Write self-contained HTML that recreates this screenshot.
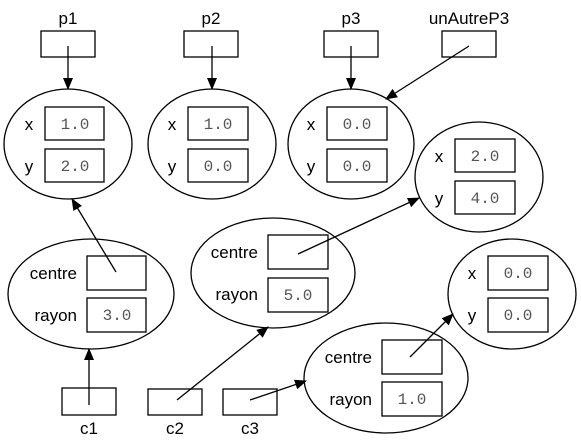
<!DOCTYPE html>
<html><head><meta charset="utf-8"><style>
html,body{margin:0;padding:0;background:#fff;}
svg{display:block;}
.s{font-family:"Liberation Sans",sans-serif;font-size:17px;}
.m{font-family:"Liberation Mono",monospace;font-size:16px;fill:#555;}
</style></head><body>
<svg width="581" height="440" viewBox="0 0 581 440" xmlns="http://www.w3.org/2000/svg">
<defs><marker id="a" markerWidth="12" markerHeight="10" refX="11" refY="5" orient="auto" markerUnits="userSpaceOnUse"><path d="M0,0 L12,5 L0,10 z" fill="#000"/></marker></defs>
<g fill="none" stroke="#000" stroke-width="1.3">
<rect x="41" y="31" width="54" height="26"/><rect x="184" y="31" width="54" height="26"/>
<rect x="324" y="31" width="54" height="26"/><rect x="442" y="31" width="54" height="26"/>
<ellipse cx="68" cy="144" rx="64" ry="55"/><ellipse cx="212" cy="144" rx="64" ry="55"/>
<ellipse cx="351" cy="144" rx="63" ry="55"/><ellipse cx="479" cy="177" rx="64" ry="55"/>
<rect x="45" y="107" width="59" height="33"/><rect x="45" y="149" width="59" height="33"/>
<rect x="188" y="107" width="60" height="33"/><rect x="188" y="149" width="60" height="33"/>
<rect x="327" y="107" width="60" height="33"/><rect x="327" y="149" width="60" height="33"/>
<rect x="455" y="139" width="60" height="33"/><rect x="455" y="181" width="60" height="33"/>
<ellipse cx="91" cy="294" rx="83" ry="55"/><rect x="87" y="256" width="59" height="34"/><rect x="87" y="298" width="59" height="34"/>
<ellipse cx="273" cy="273" rx="82" ry="55"/><rect x="268" y="235" width="60" height="34"/><rect x="268" y="278" width="60" height="34"/>
<ellipse cx="386" cy="378" rx="82" ry="55"/><rect x="382" y="340" width="60" height="34"/><rect x="382" y="382" width="60" height="34"/>
<ellipse cx="512" cy="294" rx="64" ry="55"/><rect x="488" y="256" width="60" height="34"/><rect x="488" y="298" width="60" height="34"/>
<rect x="62" y="388" width="54" height="27"/><rect x="148" y="389" width="54" height="26"/><rect x="223" y="389" width="54" height="26"/>
<line x1="68" y1="46" x2="68" y2="89" marker-end="url(#a)"/>
<line x1="212" y1="46" x2="212" y2="89" marker-end="url(#a)"/>
<line x1="351" y1="46" x2="351" y2="89" marker-end="url(#a)"/>
<line x1="469" y1="46" x2="386" y2="99" marker-end="url(#a)"/>
<line x1="116" y1="272" x2="72" y2="199" marker-end="url(#a)"/>
<line x1="89" y1="405" x2="89" y2="349" marker-end="url(#a)"/>
<line x1="298" y1="254" x2="419" y2="198" marker-end="url(#a)"/>
<line x1="177" y1="400" x2="268" y2="327" marker-end="url(#a)"/>
<line x1="250" y1="400" x2="306" y2="381" marker-end="url(#a)"/>
<line x1="410" y1="357" x2="453" y2="314" marker-end="url(#a)"/>
</g>
<g class="s" text-anchor="middle">
<text x="68" y="24">p1</text><text x="211" y="24">p2</text><text x="351" y="24">p3</text><text x="469" y="24">unAutreP3</text>
<text x="89" y="434">c1</text><text x="175" y="434">c2</text><text x="250" y="434">c3</text>
</g>
<g class="s" text-anchor="middle">
<text x="29" y="130">x</text><text x="29" y="172">y</text>
<text x="172" y="130">x</text><text x="172" y="172">y</text>
<text x="311" y="130">x</text><text x="311" y="172">y</text>
<text x="439" y="162">x</text><text x="439" y="204">y</text>
<text x="472" y="279">x</text><text x="472" y="321">y</text>
</g>
<g class="s" text-anchor="end">
<text x="77" y="279">centre</text><text x="77" y="321">rayon</text>
<text x="258" y="258">centre</text><text x="258" y="300">rayon</text>
<text x="372" y="363">centre</text><text x="372" y="405">rayon</text>
</g>
<g class="m" text-anchor="middle">
<text x="75" y="129">1.0</text><text x="75" y="171">2.0</text>
<text x="218" y="129">1.0</text><text x="218" y="171">0.0</text>
<text x="357" y="129">0.0</text><text x="357" y="171">0.0</text>
<text x="485" y="161">2.0</text><text x="485" y="203">4.0</text>
<text x="518" y="278">0.0</text><text x="518" y="320">0.0</text>
<text x="117" y="320">3.0</text><text x="298" y="300">5.0</text><text x="412" y="404">1.0</text>
</g>
</svg>
</body></html>
